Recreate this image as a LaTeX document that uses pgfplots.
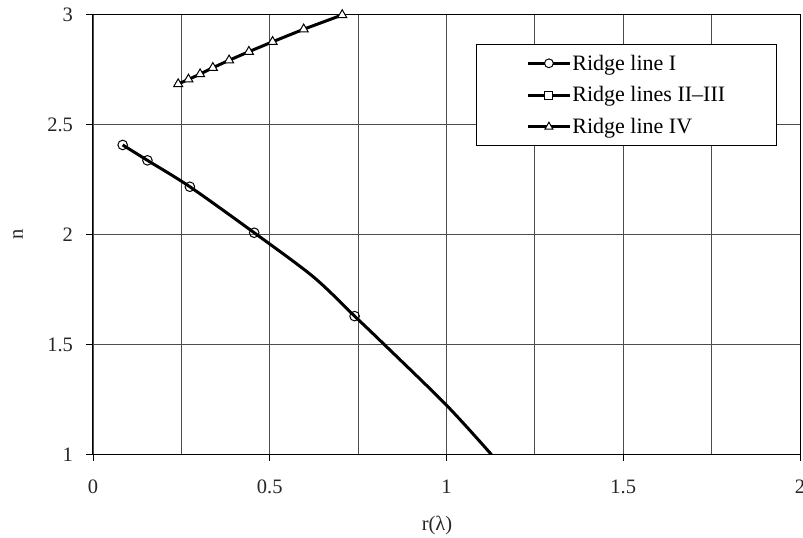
\documentclass[border=0pt]{standalone}
\usepackage{pgfplots}
\pgfplotsset{compat=1.18}
\usepackage{fontspec}
\setmainfont{Liberation Serif}

\begin{document}
\begin{tikzpicture}[font=\fontsize{20.5}{24}\selectfont]
\begin{axis}[
  name=ax,
  width=707pt, height=440pt, scale only axis,
  xmin=0, xmax=2, ymin=1, ymax=3,
  xtick={0,0.5,1,1.5,2}, ytick={1,1.5,2,2.5,3},
  minor xtick={0.25,0.75,1.25,1.75},
  grid=both,
  major grid style={black!70, line width=0.9pt},
  minor grid style={black!70, line width=0.9pt},
  tick align=outside, major tick length=6.5pt, minor tick length=0pt,
  xtick pos=left, ytick pos=left,
  tick style={black, line width=0.9pt},
  axis line style={black, line width=1pt},
  xticklabel shift=15pt,
  yticklabel shift=10pt,
  tick label style={font=\fontsize{20.5}{24}\selectfont, text=black!85},
  /pgf/number format/assume math mode=true,
  xlabel={r(λ)}, ylabel={n},
  label style={font=\fontsize{20.5}{24}\selectfont, text=black!85},
  xlabel style={at={(axis description cs:0.4866,-0.162)}, anchor=center},
  ylabel style={at={(axis description cs:-0.106,0.5)}, rotate=0, anchor=center},
  legend cell align=left,
  legend image code/.code={
    \draw[#1, mark=none] (0pt,0pt) -- (42pt,0pt);
    \draw[#1, only marks] plot coordinates {(21pt,0pt)};},
  legend style={at={(axis description cs:0.5417,0.933)}, anchor=north west,
    draw=black, line width=0.9pt, fill=white, inner xsep=50pt, inner ysep=8.5pt,
    row sep=11pt, font=\fontsize{22}{26}\selectfont,
    nodes={inner xsep=1pt}},
]

% Ridge line I
\addplot[forget plot, black, line width=3pt, smooth, mark=o, mark size=4.8pt,
  mark indices={1,2,3,4,6},
  mark options={fill=white, line width=1pt}]
  coordinates {
  (0.084,2.407) (0.154,2.337) (0.274,2.217) (0.456,2.008) (0.623,1.808)
  (0.740,1.629) (0.811,1.520) (1.000,1.224) (1.127,1.000)
};

% Ridge line IV
\addplot[forget plot, black, line width=3pt, mark=triangle*, mark size=5.2pt,
  mark options={fill=white, line width=1pt}]
  coordinates {
  (0.241,2.684) (0.270,2.705) (0.303,2.729) (0.339,2.758) (0.385,2.792)
  (0.441,2.831) (0.508,2.876) (0.596,2.933) (0.705,2.998)
};

\addlegendimage{black, line width=3pt, mark=*, mark size=4.4pt,
  mark options={fill=white, line width=1pt}}
\addlegendentry{Ridge line I}
\addlegendimage{black, line width=3pt, mark=square*, mark size=4pt,
  mark options={fill=white, line width=1pt}}
\addlegendentry{Ridge lines II–III}
\addlegendimage{black, line width=3pt, mark=triangle*, mark size=4.6pt,
  mark options={fill=white, line width=1pt}}
\addlegendentry{Ridge line IV}

\end{axis}
\pgfresetboundingbox
\path ([shift={(-93pt,-82.7pt)}]ax.south west) rectangle ([shift={(3pt,14.5pt)}]ax.north east);
\end{tikzpicture}
\end{document}
